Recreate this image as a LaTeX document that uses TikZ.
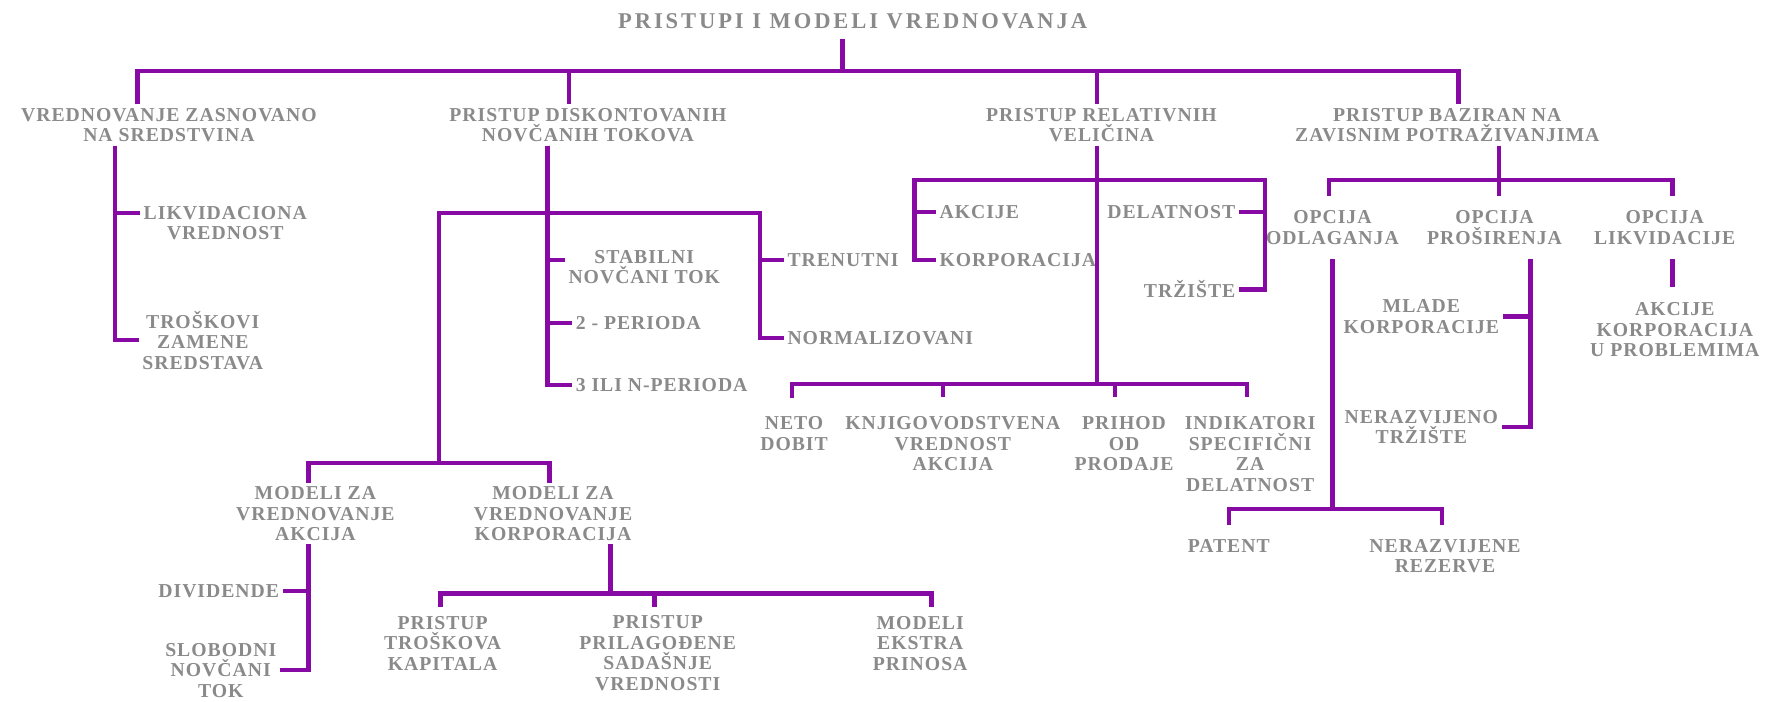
\documentclass[tikz,border=0pt]{standalone}
\usepackage{fontspec}
\setmainfont{Liberation Serif}[LetterSpace=5]
\newfontfamily\naslovfont{Liberation Serif}[LetterSpace=13]
\definecolor{linija}{RGB}{135,10,165}
\definecolor{siva}{RGB}{138,138,138}

\begin{document}
\begin{tikzpicture}[x=1pt, y=-1pt,
    veza/.style={draw=linija, line width=3.8pt},
    txt/.style={text=siva, align=center, inner sep=3pt, font=\bfseries\fontsize{17.5}{18.2}\selectfont},
    naslov/.style={text=siva, inner sep=3pt, outer ysep=6pt, font=\naslovfont\bfseries\fontsize{20}{22}\selectfont}]
    \useasboundingbox (0,0) rectangle (1568,623);
    \fill[white] (0,0) rectangle (1568,623);

    \node[naslov] (title) at (757,19) {PRISTUPI I MODELI VREDNOVANJA};

    \node[txt] (vzs) at (150,111) {VREDNOVANJE ZASNOVANO\\NA SREDSTVINA};
    \node[txt] (pdn) at (522,111) {PRISTUP DISKONTOVANIH\\NOVČANIH TOKOVA};
    \node[txt] (prv) at (978,111) {PRISTUP RELATIVNIH\\VELIČINA};
    \node[txt] (pbz) at (1285,111) {PRISTUP BAZIRAN NA\\ZAVISNIM POTRAŽIVANJIMA};

    \node[txt] (likv) at (200,198) {LIKVIDACIONA\\VREDNOST};
    \node[txt] (trosk) at (180,302) {TROŠKOVI\\ZAMENE\\SREDSTAVA};

    \node[txt] (stab) at (572,237) {STABILNI\\NOVČANI TOK};
    \node[txt, right] (per2) at (508,287) {2 - PERIODA};
    \node[txt, right] (per3) at (508,342) {3 ILI N-PERIODA};
    \node[txt, right] (tren) at (696,231) {TRENUTNI};
    \node[txt, right] (norm) at (696,300) {NORMALIZOVANI};

    \node[txt] (modA) at (280,456) {MODELI ZA\\VREDNOVANJE\\AKCIJA};
    \node[txt] (modK) at (491,456) {MODELI ZA\\VREDNOVANJE\\KORPORACIJA};
    \node[txt, left] (divi) at (251,525) {DIVIDENDE};
    \node[txt] (slob) at (196,595) {SLOBODNI\\NOVČANI\\TOK};
    \node[txt, outer ysep=5pt] (ptk) at (393,571) {PRISTUP\\TROŠKOVA\\KAPITALA};
    \node[txt, outer ysep=5pt] (ppsv) at (584,580) {PRISTUP\\PRILAGOĐENE\\SADAŠNJE\\VREDNOSTI};
    \node[txt, outer ysep=5pt] (mep) at (817,571) {MODELI\\EKSTRA\\PRINOSA};

    \node[txt, right] (akc) at (831,188) {AKCIJE};
    \node[txt, right] (korp) at (831,231) {KORPORACIJA};
    \node[txt, left] (del) at (1100,188) {DELATNOST};
    \node[txt, left] (trz) at (1100,257) {TRŽIŠTE};
    \node[txt, outer ysep=14pt] (neto) at (705,385) {NETO\\DOBIT};
    \node[txt, outer ysep=14pt] (knj) at (846,394) {KNJIGOVODSTVENA\\VREDNOST\\AKCIJA};
    \node[txt, outer ysep=14pt] (prih) at (998,394) {PRIHOD\\OD\\PRODAJE};
    \node[txt, outer ysep=14pt] (indi) at (1110,403) {INDIKATORI\\SPECIFIČNI\\ZA\\DELATNOST};

    \node[txt, outer ysep=10pt] (opOd) at (1183,202) {OPCIJA\\ODLAGANJA};
    \node[txt, outer ysep=10pt] (opPr) at (1327,202) {OPCIJA\\PROŠIRENJA};
    \node[txt, outer ysep=10pt] (opLi) at (1478,202) {OPCIJA\\LIKVIDACIJE};
    \node[txt, outer ysep=10pt] (patent) at (1091,485) {PATENT};
    \node[txt, outer ysep=10pt] (nerez) at (1283,494) {NERAZVIJENE\\REZERVE};
    \node[txt] (mlade) at (1262,281) {MLADE\\KORPORACIJE};
    \node[txt] (nertr) at (1262,379) {NERAZVIJENO\\TRŽIŠTE};
    \node[txt, outer ysep=11pt] (akorp) at (1487,293) {AKCIJE\\KORPORACIJA\\U PROBLEMIMA};

    \coordinate (t0) at (748,63);
    \coordinate (t1) at (122,63);
    \coordinate (t2) at (505,63);
    \coordinate (t3) at (974,63);
    \coordinate (t4) at (1295,63);
    \draw[veza] (t0 |- title.south) -- (t0);
    \draw[veza] (t1 |- vzs.north) -- (t1) -- (t4) -- (t4 |- pbz.north);
    \draw[veza] (t2) -- (t2 |- pdn.north);
    \draw[veza] (t3) -- (t3 |- prv.north);

    \coordinate (a1) at (102,0);
    \draw[veza] (a1 |- vzs.south) |- (trosk.west);
    \draw[veza] (a1 |- vzs.south) |- ([yshift=9pt]likv.west);

    \coordinate (a2) at (486,0);
    \coordinate (h2l) at (390,189);
    \coordinate (h2r) at (675,189);
    \coordinate (m0) at (390,411);
    \coordinate (m1) at (274,411);
    \coordinate (m2) at (488,411);
    \draw[veza] (a2 |- pdn.south) |- (per3.west);
    \draw[veza] (a2 |- pdn.south) |- ([yshift=6pt]stab.west);
    \draw[veza] (a2 |- pdn.south) |- (per2.west);
    \draw[veza] (m0) -- (h2l) -- (h2r) |- (norm.west);
    \draw[veza] (h2r) |- (tren.west);
    \draw[veza] (m1 |- modA.north) -- (m1) -- (m2) -- (m2 |- modK.north);

    \coordinate (v5) at (274,0);
    \draw[veza] (v5 |- modA.south) |- (slob.east);
    \draw[veza] (v5 |- modA.south) |- (divi.east);

    \coordinate (k0) at (542,527);
    \coordinate (k1) at (391,527);
    \coordinate (k2) at (827,527);
    \coordinate (k3) at (581,527);
    \draw[veza] (k0 |- modK.south) -- (k0);
    \draw[veza] (k1 |- ptk.north) -- (k1) -- (k2) -- (k2 |- mep.north);
    \draw[veza] (k3) -- (k3 |- ppsv.north);

    \coordinate (r0) at (974,341);
    \coordinate (r1) at (812,160);
    \coordinate (r2) at (1123,160);
    \draw[veza] (t3 |- prv.south) -- (r0);
    \draw[veza] (korp.west) -| (r1) -- (r2) |- (trz.east);
    \draw[veza] (r1) |- (akc.west);
    \draw[veza] (r2) |- (del.east);
    \coordinate (b1) at (703,341);
    \coordinate (b2) at (837,341);
    \coordinate (b3) at (990,341);
    \coordinate (b4) at (1107,341);
    \draw[veza] (b1 |- neto.north) -- (b1) -- (b4) -- (b4 |- indi.north);
    \draw[veza] (b2) -- (b2 |- knj.north);
    \draw[veza] (b3) -- (b3 |- prih.north);

    \coordinate (z0) at (1331,160);
    \coordinate (z1) at (1180,160);
    \coordinate (z2) at (1485,160);
    \draw[veza] (z0 |- pbz.south) -- (z0 |- opPr.north);
    \draw[veza] (z1 |- opOd.north) -- (z1) -- (z2) -- (z2 |- opLi.north);
    \draw[veza] (z2 |- opLi.south) -- (z2 |- akorp.north);

    \coordinate (o0) at (1183,452);
    \coordinate (o1) at (1091,452);
    \coordinate (o2) at (1280,452);
    \draw[veza] (o0 |- opOd.south) -- (o0);
    \draw[veza] (o1 |- patent.north) -- (o1) -- (o2) -- (o2 |- nerez.north);

    \coordinate (p0) at (1359,0);
    \draw[veza] (p0 |- opPr.south) |- (nertr.east);
    \draw[veza] (p0 |- opPr.south) |- (mlade.east);
\end{tikzpicture}
\end{document}
